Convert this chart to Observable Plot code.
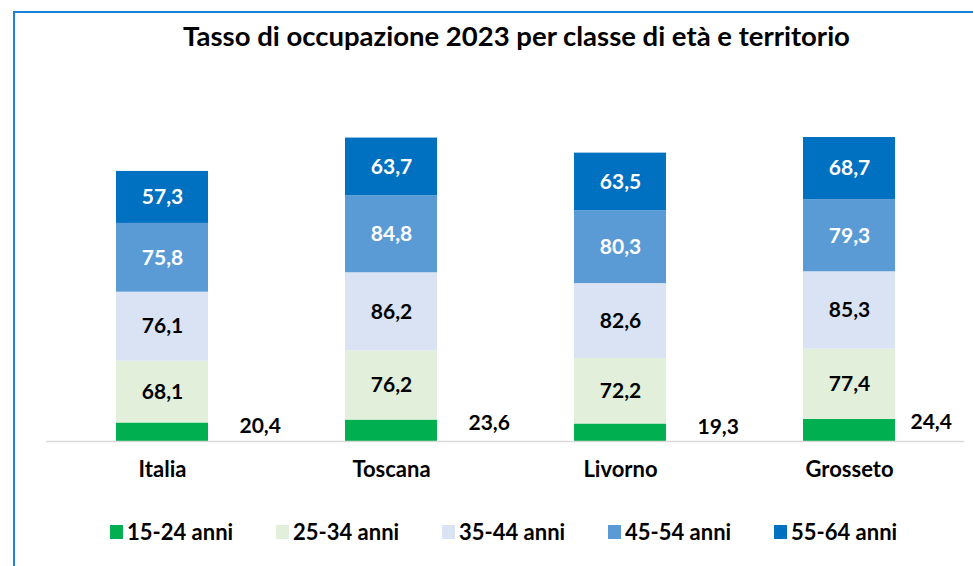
<!DOCTYPE html>
<html>
<head>
<meta charset="utf-8">
<script src="https://cdn.jsdelivr.net/npm/d3@7"></script>
<script src="https://cdn.jsdelivr.net/npm/@observablehq/plot@0.6"></script>
<style>
  html, body { margin: 0; padding: 0; background: #fff; }
  #wrap { position: relative; width: 973px; height: 566px; overflow: hidden; background: #fff; font-family: Lato, "Open Sans", sans-serif; }
  #frame { position: absolute; left: 13px; top: 11px; width: 1000px; height: 600px; border-top: 2px solid #1F80D8; border-left: 2px solid #1F80D8; box-sizing: border-box; }
  #title { position: absolute; left: 0; width: 1033px; top: 19px; text-align: center; font-weight: 700; font-size: 27.5px; line-height: 34px; color: #000; }
  #chart { position: absolute; left: 0; top: 0; }
  #legend { position: absolute; top: 518px; left: 110px; display: flex; font-weight: 700; font-size: 22px; line-height: 28px; color: #000; }
  .item { display: flex; align-items: center; width: 166px; }
  .sw { width: 13px; height: 14px; margin-right: 4px; }
</style>
</head>
<body>
<div id="wrap">
  <div id="frame"></div>
  <div id="title">Tasso di occupazione 2023 per classe di età e territorio</div>
  <div id="chart"></div>
  <div id="legend"></div>
</div>
<script>
const territori = ["Italia", "Toscana", "Livorno", "Grosseto"];
const classi = ["15-24 anni", "25-34 anni", "35-44 anni", "45-54 anni", "55-64 anni"];
const colori = ["#00B050", "#E2EFDA", "#DAE3F3", "#5B9BD5", "#0070C0"];
const v1524 = [20.4, 23.6, 19.3, 24.4];
const v2534 = [68.1, 76.2, 72.2, 77.4];
const v3544 = [76.1, 86.2, 82.6, 85.3];
const v4554 = [75.8, 84.8, 80.3, 79.3];
const v5564 = [57.3, 63.7, 63.5, 68.7];

const series = [v1524, v2534, v3544, v4554, v5564];
const data = [];
classi.forEach((c, ci) => territori.forEach((t, ti) => data.push({territorio: t, classe: c, value: series[ci][ti]})));

const fmt = v => v.toFixed(1).replace(".", ",");
const darkLabel = new Set([classi[1], classi[2]]);
const whiteLabel = new Set([classi[3], classi[4]]);
const bottom = data.filter(d => d.classe === classi[0]);
const lastT = territori[territori.length - 1];

const ff = "Lato, 'Open Sans', sans-serif";
const font = {fontSize: 21, fontWeight: 700, fontFamily: ff};

const plot = Plot.plot({
  width: 973,
  height: 566,
  marginLeft: 46,
  marginRight: 9,
  marginTop: 60,
  marginBottom: 125,
  style: {background: "transparent", fontFamily: ff},
  x: {domain: territori, paddingInner: 0.6, paddingOuter: 0.3, label: null},
  y: {domain: [0, 420], axis: null},
  color: {domain: classi, range: colori},
  marks: [
    Plot.barY(data, {x: "territorio", y: "value", fill: "classe", order: classi}),
    Plot.ruleY([0], {stroke: "#D9D9D9", strokeWidth: 1.5}),
    Plot.text(data, Plot.stackY({x: "territorio", y: "value", z: "classe", order: classi,
      text: d => darkLabel.has(d.classe) ? fmt(d.value) : null, fill: "#000", ...font})),
    Plot.text(data, Plot.stackY({x: "territorio", y: "value", z: "classe", order: classi,
      text: d => whiteLabel.has(d.classe) ? fmt(d.value) : null, fill: "#fff", ...font})),
    Plot.text(bottom.filter(d => d.territorio !== lastT), {x: "territorio", y: "value", text: d => fmt(d.value),
      textAnchor: "start", dx: 77, dy: 3, fill: "#000", ...font}),
    Plot.text(bottom.filter(d => d.territorio === lastT), {x: "territorio", y: "value", text: d => fmt(d.value),
      textAnchor: "start", dx: 61, dy: 3, fill: "#000", ...font}),
    Plot.axisX({tickSize: 0, tickPadding: 20, fontSize: 22, fontWeight: 700, fontFamily: ff, fill: "#000", label: null})
  ]
});
document.getElementById("chart").appendChild(plot);

const legend = document.getElementById("legend");
classi.forEach((c, i) => {
  const it = document.createElement("div");
  it.className = "item";
  const sw = document.createElement("span");
  sw.className = "sw";
  sw.style.background = colori[i];
  const tx = document.createElement("span");
  tx.textContent = c;
  it.appendChild(sw); it.appendChild(tx);
  legend.appendChild(it);
});
</script>
</body>
</html>
